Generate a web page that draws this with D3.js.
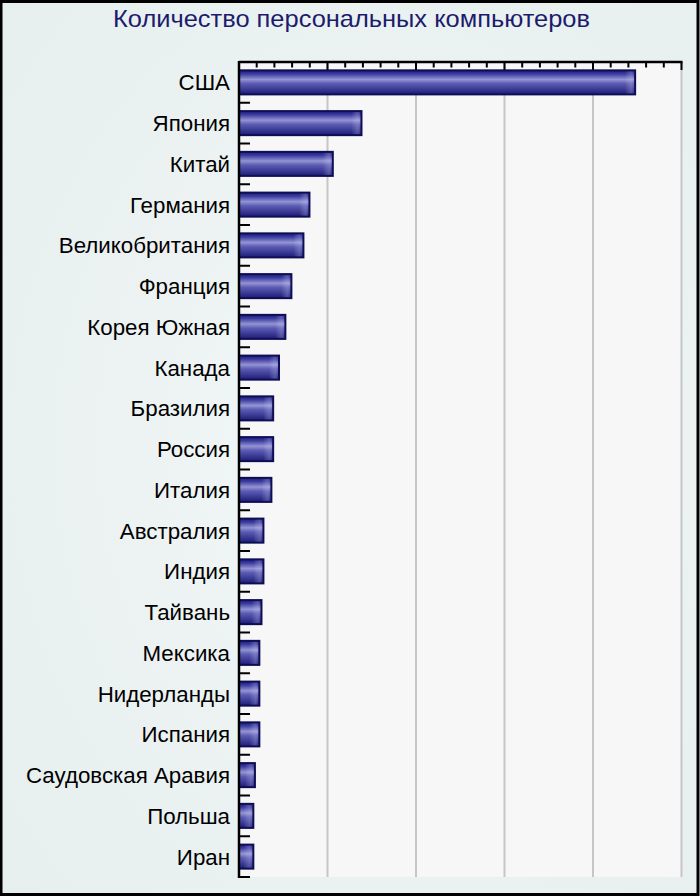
<!DOCTYPE html>
<html>
<head>
<meta charset="utf-8">
<script src="https://cdn.jsdelivr.net/npm/d3@7"></script>
<style>
  html, body { margin: 0; padding: 0; background: #e9f1f1; }
  svg { display: block; }
</style>
</head>
<body>
<svg id="chart" width="700" height="896"></svg>
<script>
const title = "Количество персональных компьютеров";
const countries = ["США", "Япония", "Китай", "Германия", "Великобритания", "Франция",
  "Корея Южная", "Канада", "Бразилия", "Россия", "Италия", "Австралия", "Индия",
  "Тайвань", "Мексика", "Нидерланды", "Испания", "Саудовская Аравия", "Польша", "Иран"];
const values = [223.8, 69.2, 53.0, 39.8, 36.4, 29.6, 26.2, 22.6, 19.3, 19.3, 18.3,
  13.8, 13.8, 12.7, 11.5, 11.5, 11.5, 9.0, 8.1, 8.1];
const majorTicks = [0, 50, 100, 150, 200, 250];
const minorTicks = d3.range(0, 251, 10);

const svg = d3.select("#chart");
const W = 700, H = 896;
const plot = { left: 239, right: 681.5, top: 62, bottom: 877 };

// background
const defs = svg.append("defs");
const bg = defs.append("radialGradient").attr("id", "bgGrad")
  .attr("cx", "55%").attr("cy", "50%").attr("r", "75%");
bg.append("stop").attr("offset", "0%").attr("stop-color", "#f3f7f7");
bg.append("stop").attr("offset", "100%").attr("stop-color", "#e6eeee");

const barGrad = defs.append("linearGradient").attr("id", "barGrad")
  .attr("x1", 0).attr("y1", 0).attr("x2", 0).attr("y2", 1);
[["0%", "#1c1c7a"], ["15%", "#3c3ca0"], ["38%", "#9494d4"], ["55%", "#5c5cb4"], ["100%", "#1c1c78"]]
  .forEach(([o, c]) => barGrad.append("stop").attr("offset", o).attr("stop-color", c));

const endGrad = defs.append("linearGradient").attr("id", "endGrad")
  .attr("x1", 0).attr("y1", 0).attr("x2", 1).attr("y2", 0);
endGrad.append("stop").attr("offset", "0%").attr("stop-color", "#ffffff").attr("stop-opacity", 0);
endGrad.append("stop").attr("offset", "70%").attr("stop-color", "#d0d0ff").attr("stop-opacity", 0.25);
endGrad.append("stop").attr("offset", "100%").attr("stop-color", "#ffffff").attr("stop-opacity", 0.05);

svg.append("rect").attr("x", 0).attr("y", 0).attr("width", W).attr("height", H)
  .attr("fill", "url(#bgGrad)");

// plot area
svg.append("rect")
  .attr("x", plot.left).attr("y", plot.top)
  .attr("width", plot.right - plot.left).attr("height", plot.bottom - plot.top)
  .attr("fill", "#f7f7f7");

const x = d3.scaleLinear().domain([0, 250]).range([plot.left, plot.right]);
const y = d3.scaleBand().domain(countries).range([plot.top, plot.bottom])
  .paddingInner(0.41).paddingOuter(0.205);

// gridlines
svg.append("g").selectAll("line").data(majorTicks.slice(1)).join("line")
  .attr("x1", d => x(d)).attr("x2", d => x(d))
  .attr("y1", plot.top).attr("y2", plot.bottom)
  .attr("stroke", "#c6c6c6").attr("stroke-width", 2);

// top axis with minor and major ticks
const topG = svg.append("g");
topG.append("line").attr("x1", plot.left).attr("x2", plot.right + 1)
  .attr("y1", plot.top).attr("y2", plot.top)
  .attr("stroke", "#000").attr("stroke-width", 2.5);
topG.selectAll("line.minor").data(minorTicks).join("line").attr("class", "minor")
  .attr("x1", d => x(d)).attr("x2", d => x(d))
  .attr("y1", plot.top).attr("y2", d => plot.top + (d % 50 === 0 ? 8 : 5.5))
  .attr("stroke", "#000").attr("stroke-width", 2);

// bars
const bars = svg.append("g");
bars.selectAll("rect.bar").data(values).join("rect").attr("class", "bar")
  .attr("x", x(0))
  .attr("y", (d, i) => y(countries[i]))
  .attr("width", d => x(d) - x(0))
  .attr("height", y.bandwidth())
  .attr("fill", "url(#barGrad)")
  .attr("stroke", "#0e0e55").attr("stroke-width", 2);
bars.selectAll("rect.end").data(values).join("rect").attr("class", "end")
  .attr("x", d => x(d) - 10)
  .attr("y", (d, i) => y(countries[i]) + 1)
  .attr("width", 9)
  .attr("height", y.bandwidth() - 2)
  .attr("fill", "url(#endGrad)");

// left axis
const leftG = svg.append("g");
const step = y.step();
const bounds = d3.range(countries.length + 1).map(i => plot.top + i * step);
leftG.selectAll("line.tick").data(bounds.slice(1)).join("line").attr("class", "tick")
  .attr("x1", plot.left).attr("x2", plot.left + 11)
  .attr("y1", d => d).attr("y2", d => d)
  .attr("stroke", "#000").attr("stroke-width", 2);
leftG.append("line").attr("x1", plot.left).attr("x2", plot.left)
  .attr("y1", plot.top - 1).attr("y2", plot.bottom + 1)
  .attr("stroke", "#000").attr("stroke-width", 2.5);

// category labels
svg.append("g").selectAll("text").data(countries).join("text")
  .attr("x", 230)
  .attr("y", d => y(d) + y.bandwidth() / 2)
  .attr("dy", "0.36em")
  .attr("text-anchor", "end")
  .attr("font-family", "'Liberation Sans', Arial, sans-serif")
  .attr("font-size", 22.3)
  .attr("fill", "#000")
  .text(d => d);

// title
svg.append("text")
  .attr("x", 113).attr("y", 27)
  .attr("textLength", 477).attr("lengthAdjust", "spacingAndGlyphs")
  .attr("font-family", "'Liberation Sans', Arial, sans-serif")
  .attr("font-size", 24)
  .attr("fill", "#1c1c6c")
  .text(title);

// outer frame
svg.append("rect").attr("x", 1).attr("y", 1.5).attr("width", W - 3).attr("height", H - 3)
  .attr("fill", "none").attr("stroke", "#000").attr("stroke-width", 3);
</script>
</body>
</html>
